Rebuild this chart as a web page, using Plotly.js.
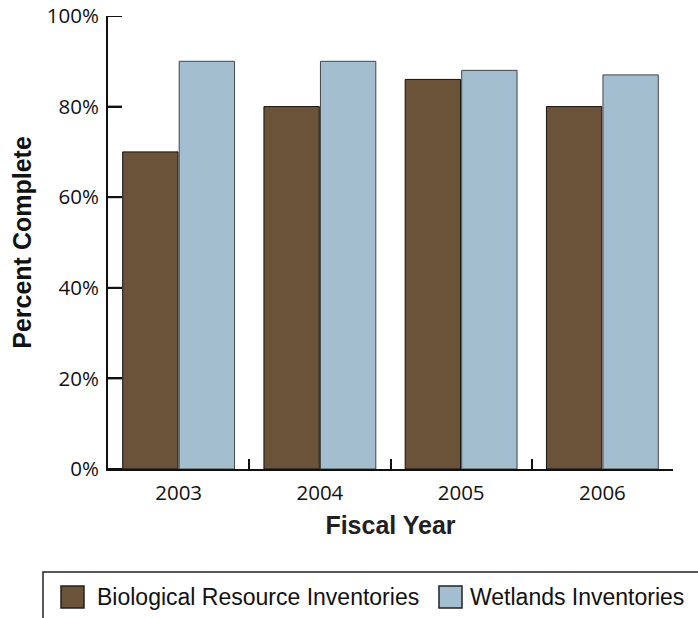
<!DOCTYPE html>
<html>
<head>
<meta charset="utf-8">
<script src="https://cdn.plot.ly/plotly-3.0.1.min.js"></script>
<style>html,body{margin:0;padding:0;background:#fff;}#chart{width:698px;height:618px;}</style>
</head>
<body>
<div id="chart"></div>
<script>
const years = ["2003", "2004", "2005", "2006"];
const biological = [70, 80, 86, 80];
const wetlands = [90, 90, 88, 87];
const seriesNames = ["Biological Resource Inventories", "Wetlands Inventories"];
const seriesColors = ["#6b5339", "#a3bfcf"];
const yTicks = [0, 20, 40, 60, 80, 100];

const traces = [
  {type: "bar", x: years, y: biological, name: seriesNames[0],
   marker: {color: seriesColors[0], line: {color: "#111", width: 1}}},
  {type: "bar", x: years, y: wetlands, name: seriesNames[1],
   marker: {color: seriesColors[1], line: {color: "#444", width: 1}}}
];

// plot area in pixels: x 108..673, y 16..469
const W = 698, H = 618, L = 108, R = 25, T = 16, B = 149;
const pw = W - L - R, ph = H - T - B;
const px = v => (v - L) / pw;
const py = v => (H - B - v) / ph;

const shapes = [
  {type: "rect", xref: "paper", yref: "paper", x0: px(43), x1: px(720), y0: py(572), y1: py(640),
   line: {color: "#222", width: 1.5}, fillcolor: "rgba(0,0,0,0)"},
  {type: "rect", xref: "paper", yref: "paper", x0: px(61), x1: px(84), y0: py(586), y1: py(608),
   line: {color: "#222", width: 1.5}, fillcolor: seriesColors[0]},
  {type: "rect", xref: "paper", yref: "paper", x0: px(439), x1: px(462), y0: py(586), y1: py(608),
   line: {color: "#222", width: 1.5}, fillcolor: seriesColors[1]}
];
// inside tick marks on the y axis, one per y tick value
yTicks.forEach(v => shapes.push({type: "line", xref: "paper", yref: "y", x0: 0, x1: px(122),
  y0: v, y1: v, line: {color: "#111", width: 2}, layer: "above"}));

const legendFont = {family: "Liberation Sans", size: 23, color: "#111"};
const annotations = [
  {xref: "paper", yref: "paper", x: px(95), y: py(597), xanchor: "left", yanchor: "middle",
   text: seriesNames[0], showarrow: false, font: legendFont},
  {xref: "paper", yref: "paper", x: px(468), y: py(597), xanchor: "left", yanchor: "middle",
   text: seriesNames[1], showarrow: false, font: legendFont}
];

const layout = {
  width: W, height: H,
  margin: {l: L, r: R, t: T, b: B, pad: 0},
  paper_bgcolor: "#fff", plot_bgcolor: "#fff",
  barmode: "group", bargap: 0.2, bargroupgap: 0.02,
  showlegend: false,
  font: {family: "Open Sans", color: "#111"},
  xaxis: {
    type: "category", tickson: "boundaries", ticks: "inside", ticklen: 10, tickwidth: 2,
    tickcolor: "#111", showline: true, linecolor: "#111", linewidth: 2,
    showgrid: false, zeroline: false, ticklabelstandoff: 4,
    tickfont: {family: "Open Sans", size: 20.5, color: "#111"},
    title: {text: "Fiscal Year", font: {family: "Liberation Sans", size: 25, color: "#231f20", weight: "bold"}, standoff: 12}
  },
  yaxis: {
    range: [0, 100], tickvals: yTicks, ticktext: yTicks.map(v => v + "%"),
    ticks: "inside", ticklen: 14, tickwidth: 2, tickcolor: "#111",
    showline: true, linecolor: "#111", linewidth: 2, showgrid: false, zeroline: false,
    ticklabelstandoff: 3,
    tickfont: {family: "Open Sans", size: 20.5, color: "#111"},
    title: {text: "Percent Complete", font: {family: "Liberation Sans", size: 25, color: "#111", weight: "bold"}, standoff: 8}
  },
  shapes: shapes,
  annotations: annotations
};

Plotly.newPlot("chart", traces, layout, {displayModeBar: false, staticPlot: true});
</script>
</body>
</html>
